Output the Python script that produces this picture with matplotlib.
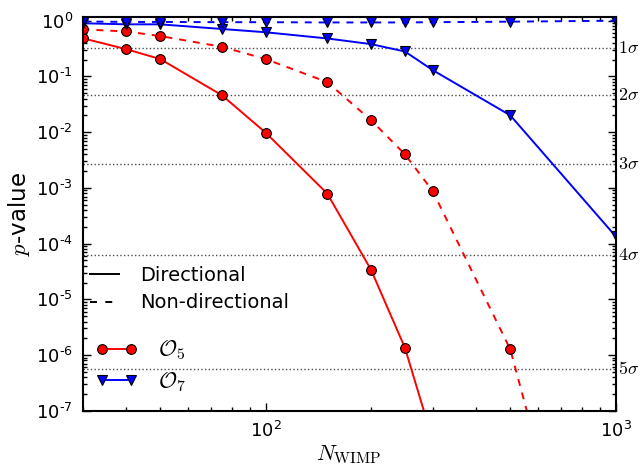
import numpy as np
import matplotlib
matplotlib.use("Agg")
import matplotlib.pyplot as plt
from matplotlib.lines import Line2D
from matplotlib.ticker import LogLocator, NullFormatter, FuncFormatter

# number of WIMP events
n_o5_dir = [30, 40, 50, 75, 100, 150, 200, 250, 300]
p_o5_dir = [0.485, 0.308, 0.205, 0.046, 0.0098, 7.9e-4, 3.4e-5, 1.35e-6, 3e-8]

n_o5_nondir = [30, 40, 50, 75, 100, 150, 200, 250, 300, 500, 1000]
p_o5_nondir = [0.70, 0.64, 0.53, 0.34, 0.205, 0.079, 0.0164, 0.004, 8.8e-4, 1.26e-6, 1.2e-13]

n_o7_dir = [30, 40, 50, 75, 100, 150, 200, 250, 300, 500, 1000]
p_o7_dir = [0.90, 0.86, 0.86, 0.71, 0.62, 0.48, 0.38, 0.28, 0.13, 0.02, 1.35e-4]

n_o7_nondir = [30, 40, 50, 75, 100, 150, 200, 250, 300, 500, 1000]
p_o7_nondir = [0.97, 0.95, 0.95, 0.94, 0.94, 0.93, 0.93, 0.93, 0.94, 0.96, 1.0]

# p-values for 1..5 sigma
sigma_names = ["1", "2", "3", "4", "5"]
sigma_p = [0.3173, 0.0455, 0.0027, 6.33e-5, 5.73e-7]

plt.rcParams["lines.scale_dashes"] = False
plt.rcParams["axes.linewidth"] = 1.5


def pow10(v, pos):
    e = int(round(np.log10(v)))
    if e < 0:
        return r"$\mathdefault{10^{\text{-}%d}}$" % (-e)
    return r"$\mathdefault{10^{%d}}$" % e


fig = plt.figure(figsize=(6.4, 4.7), dpi=100)
ax = fig.add_axes([0.129, 0.126, 0.833, 0.8385])

mk = dict(markersize=7, markeredgecolor="k", markeredgewidth=0.8, lw=1.4)
dash = (5, 5)

for p in sigma_p:
    ax.axhline(p, color="0.3", ls=":", lw=1.0, zorder=1)

ax.plot(n_o5_dir, p_o5_dir, color="#ff0000", marker="o", **mk)
ax.plot(n_o5_nondir, p_o5_nondir, color="#ff0000", marker="o", dashes=dash, **mk)
ax.plot(n_o7_dir, p_o7_dir, color="#0000ff", marker="v", **mk)
ax.plot(n_o7_nondir, p_o7_nondir, color="#0000ff", marker="v", dashes=dash, **mk)

ax.set_xscale("log")
ax.set_yscale("log")
ax.set_xlim(30, 1000)
ax.set_ylim(1e-7, 1.18)
ax.set_yticks([10.0 ** k for k in range(-7, 1)])
ax.yaxis.set_major_formatter(FuncFormatter(pow10))
ax.xaxis.set_major_formatter(FuncFormatter(pow10))
ax.yaxis.set_minor_locator(LogLocator(subs=np.arange(2, 10), numticks=100))
ax.yaxis.set_minor_formatter(NullFormatter())
ax.xaxis.set_minor_formatter(NullFormatter())
ax.tick_params(which="both", direction="in", top=True, right=True, labelsize=13, width=1.0)
ax.tick_params(which="major", length=6, pad=7)
ax.tick_params(which="minor", length=3)

ax.set_xlabel(r"$N_{\rm WIMP}$", fontsize=16, math_fontfamily="cm", labelpad=2)
ax.set_ylabel(r"$p$-value", fontsize=16.5, math_fontfamily="cm", labelpad=3)

for name, p in zip(sigma_names, sigma_p):
    ax.text(1.005, p, r"$%s\sigma$" % name, transform=ax.get_yaxis_transform(),
            fontsize=13, math_fontfamily="cm", va="center", ha="left")

style_handles = [Line2D([], [], color="k", lw=1.4),
                 Line2D([], [], color="k", lw=1.4, dashes=(5, 6))]
leg1 = ax.legend(style_handles, ["Directional", "Non-directional"], loc="center left",
                 bbox_to_anchor=(0.014, 0.309), frameon=False, fontsize=14,
                 handlelength=1.5, handletextpad=1.1, labelspacing=0.45,
                 borderpad=0, borderaxespad=0)
ax.add_artist(leg1)

op_handles = [Line2D([], [], color="#ff0000", marker="o", **mk),
              Line2D([], [], color="#0000ff", marker="v", **mk)]
leg2 = ax.legend(op_handles, [r"$\mathcal{O}_5$", r"$\mathcal{O}_7$"], loc="center left",
                 bbox_to_anchor=(0.024, 0.113), frameon=False, fontsize=16,
                 numpoints=2, handlelength=1.9, handletextpad=0.9, labelspacing=0.35,
                 borderpad=0, borderaxespad=0)
for t in leg2.get_texts():
    t.set_math_fontfamily("cm")

fig.savefig("out.png", dpi=100)
